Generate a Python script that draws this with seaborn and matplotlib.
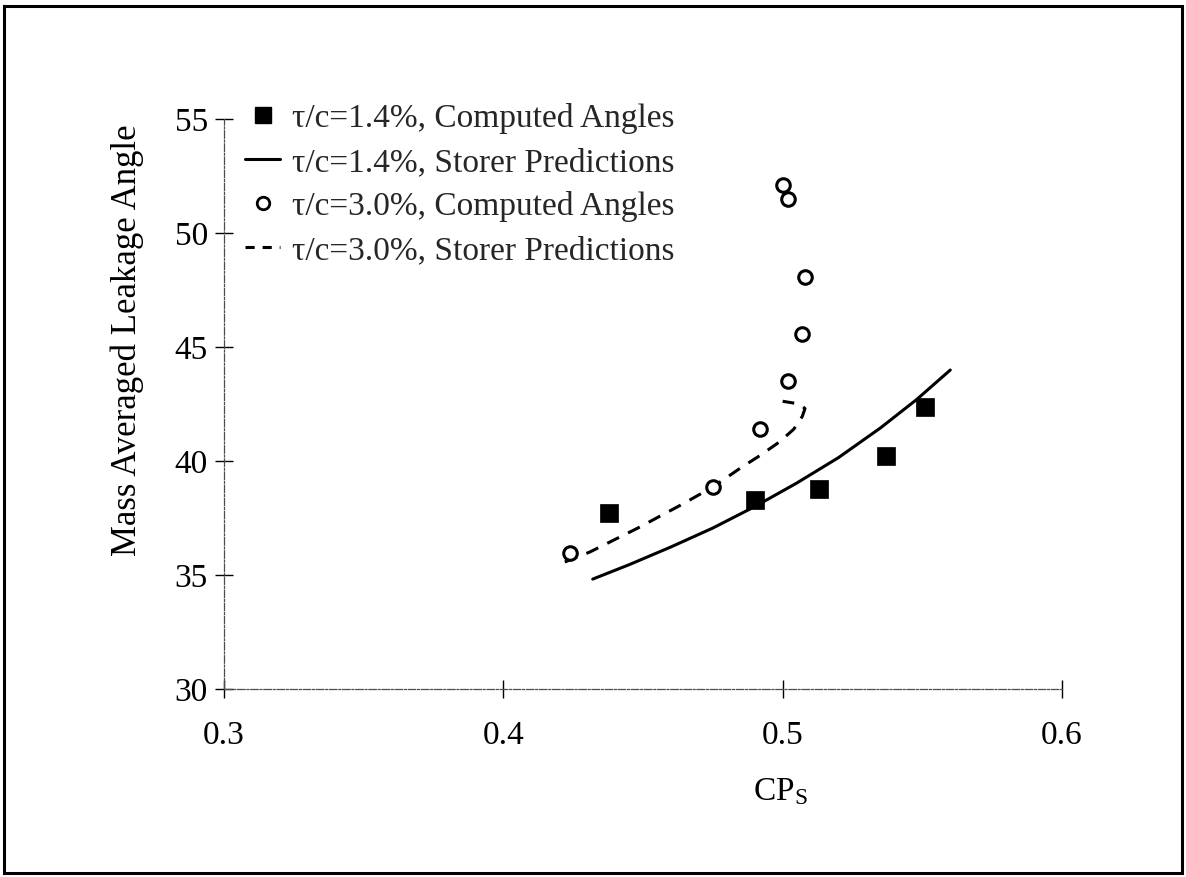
import numpy as np
import pandas as pd
import matplotlib
matplotlib.use("Agg")
import matplotlib.pyplot as plt
from matplotlib.lines import Line2D
from matplotlib.patches import Rectangle
import seaborn as sns

# Computed leakage angles, tau/c = 1.4 %
cps_14 = [0.438, 0.490, 0.513, 0.537, 0.551]
ang_14 = [37.72, 38.29, 38.77, 40.22, 42.37]

# Storer model prediction, tau/c = 1.4 %
cps_14_pred = [0.432, 0.445, 0.460, 0.475, 0.490, 0.505, 0.520, 0.535, 0.548, 0.560]
ang_14_pred = [34.82, 35.45, 36.23, 37.06, 38.00, 39.03, 40.15, 41.45, 42.70, 43.99]

# Computed leakage angles, tau/c = 3.0 %
cps_30 = [0.424, 0.475, 0.492, 0.502, 0.507, 0.508, 0.500, 0.502]
ang_30 = [35.96, 38.86, 41.40, 43.51, 45.57, 48.07, 52.11, 51.49]

# Storer model prediction, tau/c = 3.0 %
cps_30_pred = [0.422, 0.431, 0.448, 0.464, 0.475, 0.485, 0.492, 0.499,
               0.504, 0.507, 0.508, 0.506, 0.500]
ang_30_pred = [35.57, 36.01, 37.05, 38.10, 38.86, 39.70, 40.25, 40.85,
               41.40, 41.95, 42.30, 42.50, 42.62]

x_ticks = [0.3, 0.4, 0.5, 0.6]
y_ticks = [30, 35, 40, 45, 50, 55]

legend_labels = [
    "τ/c=1.4%, Computed Angles",
    "τ/c=1.4%, Storer Predictions",
    "τ/c=3.0%, Computed Angles",
    "τ/c=3.0%, Storer Predictions",
]

sns.set_theme(style="white")
plt.rcParams["font.family"] = ["Liberation Serif", "DejaVu Serif"]
plt.rcParams["mathtext.fontset"] = "custom"
plt.rcParams["mathtext.rm"] = "Liberation Serif"
plt.rcParams["mathtext.it"] = "Liberation Serif:italic"

FS = 24
W, H = 1186, 877
fig = plt.figure(figsize=(W / 100, H / 100), dpi=100)
ax = fig.add_axes([224 / W, 1 - 689 / H, (1062 - 224) / W, (689 - 119) / H])

df14 = pd.DataFrame({"cps": cps_14, "ang": ang_14})
df14p = pd.DataFrame({"cps": cps_14_pred, "ang": ang_14_pred})
df30 = pd.DataFrame({"cps": cps_30, "ang": ang_30})
df30p = pd.DataFrame({"cps": cps_30_pred, "ang": ang_30_pred})

dash = (0, (4.3, 3.3))
sns.lineplot(data=df14p, x="cps", y="ang", sort=False, estimator=None,
             color="black", lw=2.2, ax=ax)
sns.lineplot(data=df30p, x="cps", y="ang", sort=False, estimator=None,
             color="black", lw=2.2, linestyle=dash, ax=ax)
sns.scatterplot(data=df14, x="cps", y="ang", marker="s", s=150,
                color="black", edgecolor="black", linewidth=0.5, ax=ax, zorder=4)
sns.scatterplot(data=df30, x="cps", y="ang", marker="o", s=95,
                facecolor="white", edgecolor="black", linewidth=2.2, ax=ax, zorder=4)

ax.set_xlim(0.3, 0.6)
ax.set_ylim(30, 55)
ax.set_xticks(x_ticks)
ax.set_yticks(y_ticks)
ax.set_xticklabels([f"{v:.1f}" for v in x_ticks])
ax.set_yticklabels([str(v) for v in y_ticks])
ax.set_xlabel("")
ax.set_ylabel("")

for side in ("top", "right"):
    ax.spines[side].set_visible(False)
for side in ("left", "bottom"):
    ax.spines[side].set_color("0.3")
    ax.spines[side].set_linewidth(0.9)
    ax.spines[side].set_linestyle((0, (6, 1.5, 1.5, 1.5)))

ax.tick_params(axis="both", which="major", bottom=True, left=True,
               direction="inout", length=13, width=1.0,
               color="black", labelsize=FS, labelcolor="black")
ax.tick_params(axis="y", pad=5)
ax.tick_params(axis="x", pad=16)

# Axis titles
fig.text(780 / W, 1 - 792 / H, "CP$_{\\mathrm{S}}$", fontsize=FS,
         ha="center", va="center", color="black")
fig.text(127 / W, 1 - 340 / H, "Mass Averaged Leakage Angle", fontsize=25,
         rotation=90, ha="center", va="center", color="black")

handles = [
    Line2D([], [], marker="s", color="black", linestyle="none", markersize=11),
    Line2D([], [], color="black", lw=2.2),
    Line2D([], [], marker="o", markerfacecolor="white", markeredgecolor="black",
           markeredgewidth=2.0, linestyle="none", markersize=9),
    Line2D([], [], color="black", lw=2.2, linestyle=(0, (3.0, 2.6))),
]
ax.legend(handles, legend_labels, loc="upper left",
          bbox_to_anchor=(245 / W, 1 - 103 / H), bbox_transform=fig.transFigure,
          frameon=False, borderaxespad=0, borderpad=0, handlelength=1.05,
          handletextpad=0.35, labelspacing=0.40, fontsize=FS)

# Frame around the whole figure
fig.patches.append(Rectangle((4 / W, 4 / H), 1 - 8 / W, 1 - 10 / H,
                             transform=fig.transFigure, fill=False,
                             edgecolor="black", linewidth=2.2))

fig.savefig("out.png", dpi=100, facecolor="white")
